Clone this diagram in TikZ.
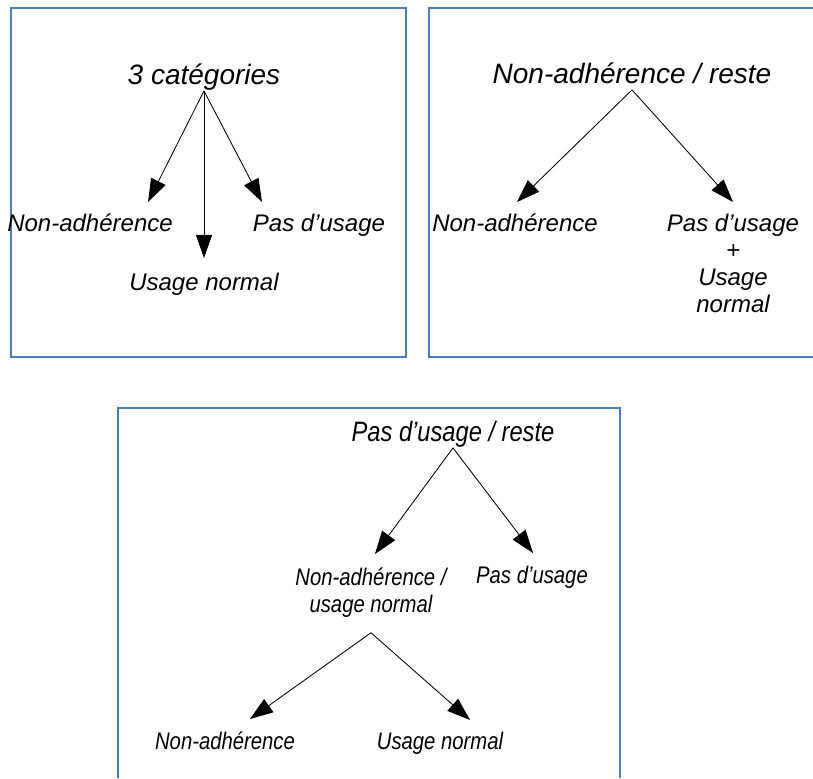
\documentclass[tikz,border=0pt]{standalone}
\usepackage{fontspec}
\setmainfont{Liberation Sans}
\newfontfamily\serree[FakeStretch=0.845]{Liberation Sans}
\usetikzlibrary{arrows.meta}
\usetikzlibrary{positioning}
\definecolor{bleucadre}{RGB}{74,126,187}
\tikzset{
  cadre/.style={draw=bleucadre, line width=0.75pt},
  fleche/.style={-{Triangle[length=16.4pt,width=11.4pt]}, black, line width=0.6pt},
  titre/.style={font=\fontsize{19.92}{22}\selectfont\itshape, inner sep=0pt, text depth=0.47em, anchor=base},
  etiq/.style={font=\fontsize{17.07}{19.2}\selectfont\itshape, inner sep=0pt, anchor=base, align=center},
  serre/.style={execute at begin node=\serree},
}
\begin{document}
\begin{tikzpicture}[x=0.025cm, y=-0.025cm]
    \useasboundingbox (0,0) rectangle (813,778);

    % cadre 1 : trois categories
    \draw[cadre] (11,8) rectangle (406,357);
    \node[titre] (cat) at (204,84) {3 catégories};
    \node[etiq] (na1) at (90,231) {Non-adhérence};
    \node[etiq] (pu1) at (319,231) {Pas d’usage};
    \node[etiq] (un1) at (204,290) {Usage normal};
    \coordinate (f1a) at (148,202);
    \coordinate (f1b) at (204,258);
    \coordinate (f1c) at (262,202);
    \draw[fleche] (cat.south) -- (f1a);
    \draw[fleche] (cat.south) -- (f1b);
    \draw[fleche] (cat.south) -- (f1c);

    % cadre 2 : non-adherence / reste
    \draw[cadre] (813,8) -- (429,8) -- (429,357) -- (813,357);
    \node[titre] (nar) at (632,83) {Non-adhérence / reste};
    \node[etiq] (na2) at (515,231) {Non-adhérence};
    \node[etiq] (pun) at (733,312) {Pas d’usage\\+\\Usage\\normal};
    \coordinate (f2a) at (517,202);
    \coordinate (f2b) at (733,202);
    \draw[fleche] (nar.south) -- (f2a);
    \draw[fleche] (nar.south) -- (f2b);

    % cadre 3 : pas d'usage / reste
    \draw[cadre] (118,778) -- (118,408) -- (620,408) -- (620,778);
    \begin{scope}[every node/.append style={serre}]
        \node[titre] (pur) at (453,441) {Pas d’usage / reste};
        \node[etiq] (nau) at (371,612) {Non-adhérence /\\usage normal};
        \node[etiq] (pu3) at (532,583) {Pas d’usage};
        \node[etiq] (na3) at (225,749) {Non-adhérence};
        \node[etiq] (un3) at (440,749) {Usage normal};
    \end{scope}
    \coordinate (f3a) at (375,554);
    \coordinate (f3b) at (533,553);
    \coordinate (dep) at ([yshift=-11pt]nau.south);
    \coordinate (f3c) at (250,719);
    \coordinate (f3d) at (470,720);
    \draw[fleche] (pur.south) -- (f3a);
    \draw[fleche] (pur.south) -- (f3b);
    \draw[fleche] (dep) -- (f3c);
    \draw[fleche] (dep) -- (f3d);
\end{tikzpicture}
\end{document}
